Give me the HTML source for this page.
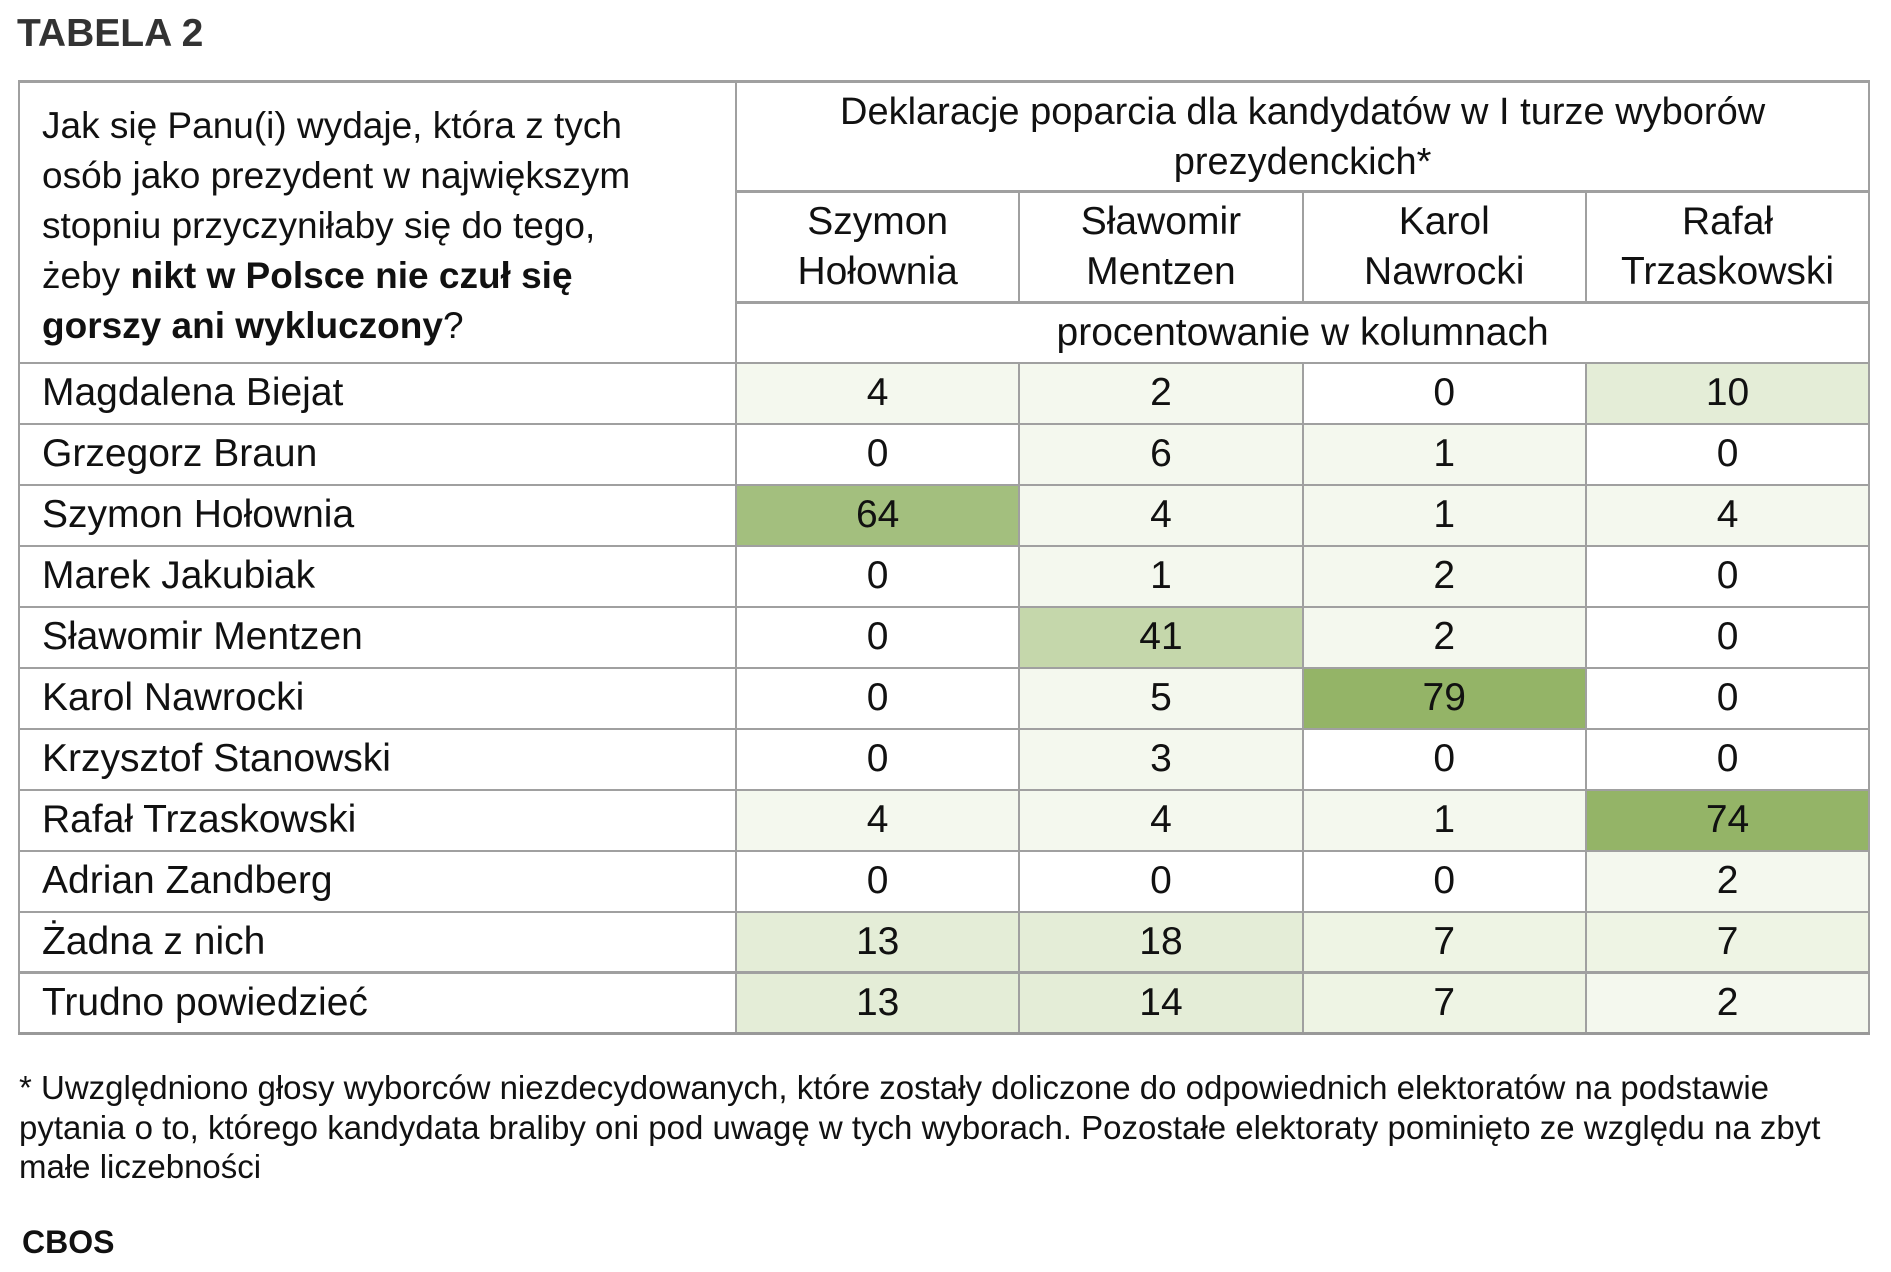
<!DOCTYPE html>
<html><head><meta charset="utf-8">
<style>
body{margin:0;width:1891px;height:1272px;background:#fff;position:relative;overflow:hidden;font-family:"Liberation Sans",sans-serif;color:#111}
.abs{position:absolute}
.c{position:absolute;box-sizing:border-box;display:flex;align-items:center;justify-content:center;text-align:center;font-size:39px;line-height:50px}
.l{justify-content:flex-start;padding-left:22px;text-align:left}
.fn{position:absolute;left:19px;font-size:33px;white-space:nowrap;color:#111}
</style></head><body>
<div class="abs" style="left:17px;top:12px;font-size:39px;font-weight:bold;color:#333">TABELA 2</div>
<div id="tbl" class="abs" style="left:0;top:0;width:1891px;height:1040px"></div>
<div class="fn" style="top:1069px">* Uwzględniono głosy wyborców niezdecydowanych, które zostały doliczone do odpowiednich elektoratów na podstawie</div>
<div class="fn" style="top:1109px">pytania o to, którego kandydata braliby oni pod uwagę w tych wyborach. Pozostałe elektoraty pominięto ze względu na zbyt</div>
<div class="fn" style="top:1148px">małe liczebności</div>
<div class="abs" style="left:22px;top:1224px;font-size:32px;font-weight:bold">CBOS</div>
<script>
const columns=["Szymon<br>Hołownia","Sławomir<br>Mentzen","Karol<br>Nawrocki","Rafał<br>Trzaskowski"];
const rows=["Magdalena Biejat","Grzegorz Braun","Szymon Hołownia","Marek Jakubiak","Sławomir Mentzen","Karol Nawrocki","Krzysztof Stanowski","Rafał Trzaskowski","Adrian Zandberg","Żadna z nich","Trudno powiedzieć"];
const colHolownia=[4,0,64,0,0,0,0,4,0,13,13];
const colMentzen=[2,6,4,1,41,5,3,4,0,18,14];
const colNawrocki=[0,1,1,2,2,79,0,1,0,7,7];
const colTrzaskowski=[10,0,4,0,0,0,0,74,2,7,2];
const series=[colHolownia,colMentzen,colNawrocki,colTrzaskowski];
const X0=19,XQ=736,CW=283.3,Y0=81,RH=60.95,YB=363;
const B='#a0a0a0';
const t=document.getElementById('tbl');
function fill(v){if(v<=0)return '#ffffff';if(v<7)return '#f4f8ee';if(v<10)return '#eef4e4';if(v<30)return '#e4edd7';if(v<50)return '#c5d7ab';if(v<70)return '#a3bf7e';return '#94b467';}
function cell(x,y,w,h,html,cls,bg,name){const d=document.createElement('div');d.className='c '+(cls||'');
d.style.cssText+=`left:${x}px;top:${y}px;width:${w}px;height:${h}px;border:2px solid ${B};margin:-1px 0 0 -1px;background:${bg||'#fff'}`;
d.innerHTML=html;


t.appendChild(d);return d;}
const q=cell(X0,Y0,XQ-X0+2,YB-Y0+2,'<div style="white-space:nowrap">Jak się Panu(i) wydaje, która z tych<br>osób jako prezydent w największym<br>stopniu przyczyniłaby się do tego,<br>żeby <b>nikt w Polsce nie czuł się</b><br><b>gorszy ani wykluczony</b>?</div>','l','#fff','question-header');
q.style.display='block';q.style.paddingTop='18px';q.style.lineHeight='50px';q.style.fontSize='37px';q.style.borderTopWidth='3px';
const g=cell(XQ,Y0,4*CW+2,112,'Deklaracje poparcia dla kandydatów w I turze wyborów<br>prezydenckich*','','#fff','group-header');g.style.borderTopWidth='3px';g.style.fontSize='38px';
columns.forEach((c,i)=>{cell(XQ+i*CW,192,CW+2,112,c,'','#fff','column-header-'+i);});
cell(XQ,303,4*CW+2,62,'procentowanie w kolumnach','','#fff','unit-header');
rows.forEach((r,j)=>{const y=YB+j*RH;
 cell(X0,y,XQ-X0+2,RH+2,r,'l','#fff','row-label-'+j);
 series.forEach((s,i)=>{cell(XQ+i*CW,y,CW+2,RH+2,String(s[j]),'',fill(s[j]),'value-cell-'+j+'-'+i);});
});
const bl=document.createElement('div');bl.style.cssText=`position:absolute;left:${X0-1}px;top:${YB+11*RH-1}px;width:${XQ+4*CW-X0+2}px;height:3px;background:#999`;


t.appendChild(bl);
</script>
</body></html>
